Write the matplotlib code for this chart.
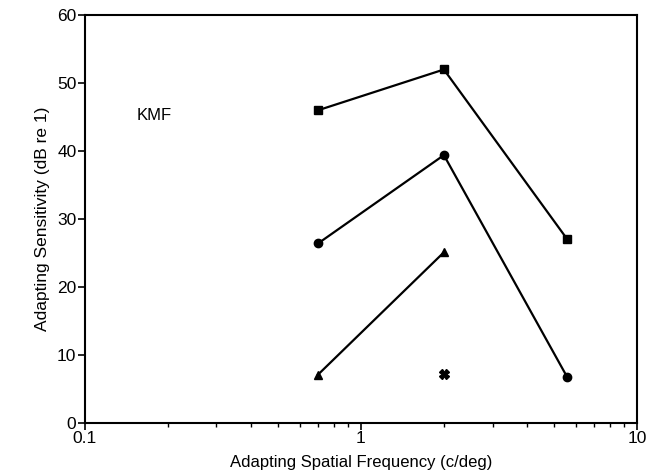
import matplotlib
matplotlib.use('Agg')
import matplotlib.pyplot as plt
from matplotlib.ticker import FixedLocator, LogLocator, NullFormatter

plt.rcParams['font.family'] = ['Liberation Sans', 'DejaVu Sans']

# adapting spatial frequencies (c/deg) and sensitivities (dB re 1)
freq_sq = [0.7, 2.0, 5.6]
sens_sq = [46.0, 52.0, 27.0]
freq_ci = [0.7, 2.0, 5.6]
sens_ci = [26.4, 39.4, 6.7]
freq_tri = [0.7, 2.0]
sens_tri = [7.1, 25.1]
freq_x = [2.0]
sens_x = [7.2]

fig = plt.figure(figsize=(6.62, 4.73), dpi=100)
ax = fig.add_axes([0.128, 0.106, 0.834, 0.862])

ax.plot(freq_sq, sens_sq, 'k-', lw=1.6, marker='s', ms=6)
ax.plot(freq_ci, sens_ci, 'k-', lw=1.6, marker='o', ms=6)
ax.plot(freq_tri, sens_tri, 'k-', lw=1.6, marker='^', ms=6)
ax.plot(freq_x, sens_x, 'k', ls='none', marker='X', ms=7)

ax.set_xscale('log')
ax.set_xlim(0.1, 10)
ax.set_ylim(0, 60)
ax.xaxis.set_major_locator(FixedLocator([0.1, 1, 10]))
ax.set_xticklabels(['0.1', '1', '10'])
ax.xaxis.set_minor_locator(LogLocator(base=10, subs=range(2, 10)))
ax.xaxis.set_minor_formatter(NullFormatter())
ax.set_yticks(range(0, 61, 10))

ax.tick_params(axis='both', which='major', direction='out', length=5, width=1.2,
               labelsize=12.5, pad=1)
ax.tick_params(axis='x', which='minor', direction='out', length=3, width=1.0)
for s in ax.spines.values():
    s.set_linewidth(1.5)

ax.text(0.154, 45.2, 'KMF', fontsize=12, va='center', ha='left')

ax.set_xlabel('Adapting Spatial Frequency (c/deg)', fontsize=12, labelpad=6)
ax.set_ylabel('Adapting Sensitivity (dB re 1)', fontsize=12.5, labelpad=5)

fig.savefig('out.png', dpi=100)
plt.close(fig)
